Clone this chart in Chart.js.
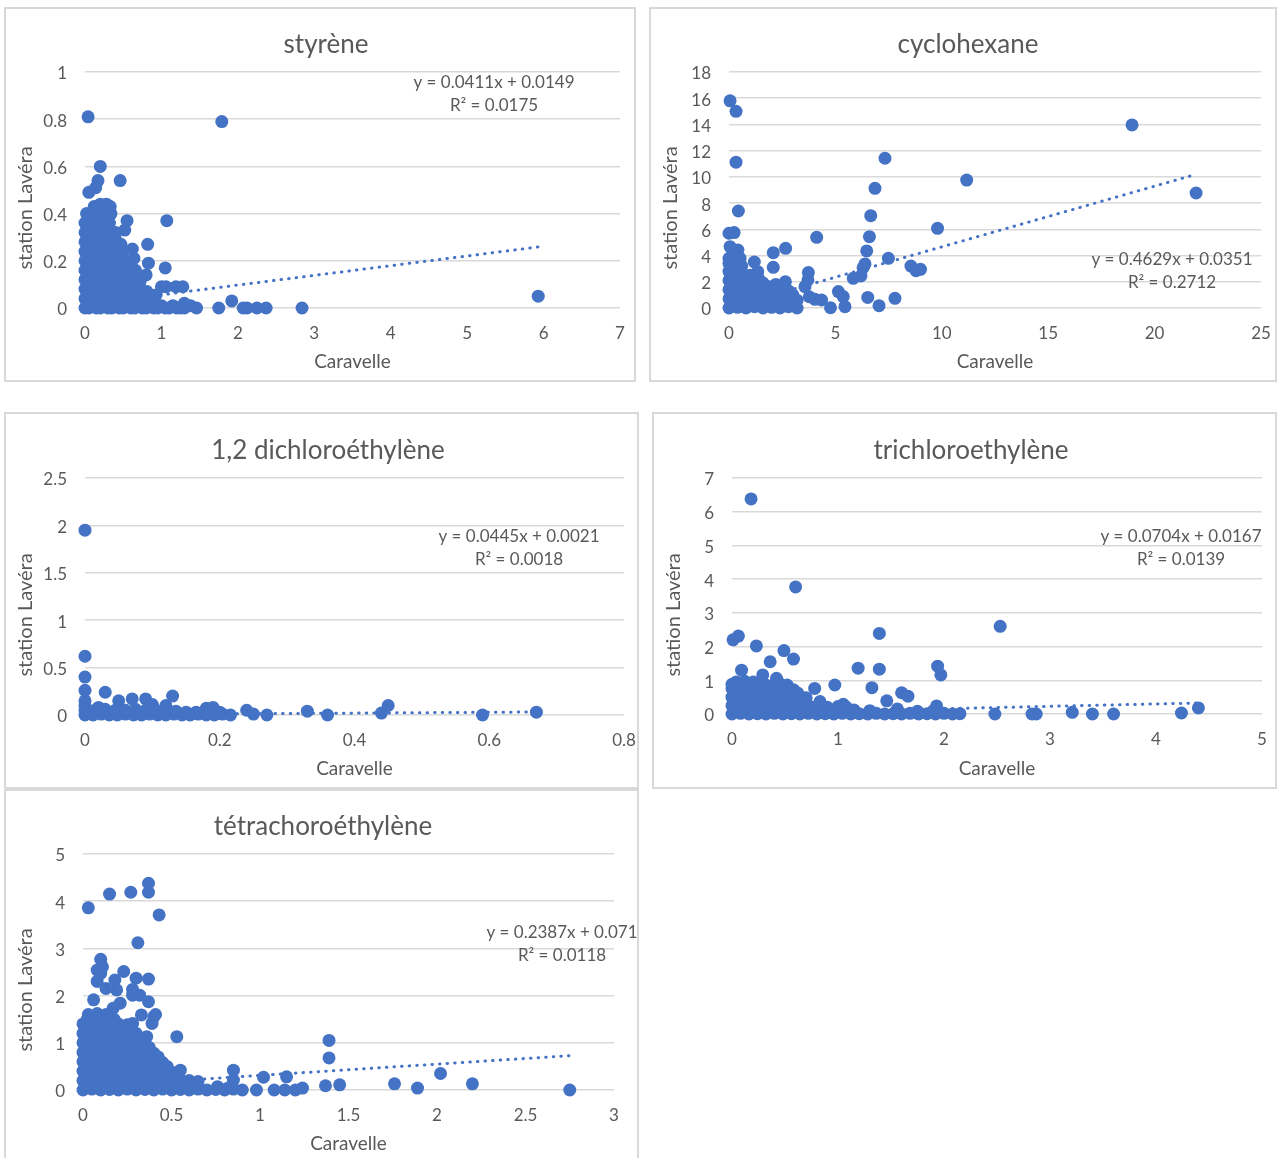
<!DOCTYPE html>
<html>
<head>
<meta charset="utf-8">
<title>Caravelle / station Lavéra</title>
<script src="https://cdn.jsdelivr.net/npm/chart.js@4.4.1/dist/chart.umd.min.js"></script>
<style>
  body { margin: 0; background: #fff; width: 1277px; height: 1158px; position: relative; overflow: hidden; }
  .box { position: absolute; box-sizing: border-box; border: 2px solid #d9d9d9; background: #fff; }
  .box canvas { display: block; }
</style>
</head>
<body>
<script>
// ---- data: [Caravelle, station Lavéra] pairs per compound ----
const titles = ['styrène', 'cyclohexane', '1,2 dichloroéthylène', 'trichloroethylène', 'tétrachoroéthylène'];
const slopes = [0.0411, 0.4629, 0.0445, 0.0704, 0.2387];
const intercepts = [0.0149, 0.0351, 0.0021, 0.0167, 0.071];
const r2Values = [0.0175, 0.2712, 0.0018, 0.0139, 0.0118];

const styreneXTicks = [0, 1, 2, 3, 4, 5, 6, 7];
const styreneYTicks = [0, 0.2, 0.4, 0.6, 0.8, 1];
const styrenePts = [
  [0.04,0.81],[1.79,0.79],[5.93,0.05],[0.2,0.6],[0.46,0.54],[0.17,0.54],[0.14,0.51],[0.05,0.49],
  [0.28,0.44],[0.33,0.43],[1.07,0.37],[0.55,0.37],[0.52,0.33],[0.47,0.27],[0.62,0.25],[0.64,0.21],
  [0.82,0.27],[0.83,0.19],[1.05,0.17],[0.8,0.14],[0.81,0.07],[0.93,0.055],[1.0,0.09],[1.06,0.09],
  [1.19,0.09],[1.28,0.09],[1.3,0.02],[1.46,0],[1.75,0],[1.92,0.03],[2.07,0],[2.12,0],[2.25,0],
  [2.37,0],[2.84,0],
  [0,0],[0.05,0],[0.1,0.01],[0.15,0],[0.2,0],[0.25,0.01],[0.3,0],[0.35,0],[0.4,0.01],[0.45,0],
  [0.5,0],[0.55,0.01],[0.6,0],[0.65,0],[0.7,0.01],[0.75,0],[0.8,0],[0.85,0.01],[0.9,0],[0.95,0],
  [1.0,0.01],[1.05,0],[1.1,0],[1.15,0.01],[1.2,0],[1.25,0],[1.3,0],[1.38,0.01],
  [0,0.04],[0.08,0.04],[0.16,0.05],[0.24,0.04],[0.32,0.04],[0.4,0.05],[0.48,0.04],[0.56,0.04],
  [0.64,0.05],[0.72,0.04],[0.8,0.04],[0.88,0.03],
  [0,0.08],[0.08,0.08],[0.16,0.09],[0.24,0.08],[0.32,0.08],[0.4,0.09],[0.48,0.08],[0.56,0.08],
  [0.64,0.09],[0.72,0.08],
  [0,0.12],[0.08,0.12],[0.16,0.13],[0.24,0.12],[0.32,0.12],[0.4,0.13],[0.48,0.12],[0.56,0.12],
  [0.64,0.13],[0.72,0.11],
  [0,0.16],[0.08,0.16],[0.16,0.17],[0.24,0.16],[0.32,0.16],[0.4,0.17],[0.48,0.16],[0.56,0.16],[0.66,0.16],
  [0,0.2],[0.08,0.2],[0.16,0.21],[0.24,0.2],[0.32,0.2],[0.4,0.21],[0.5,0.2],[0.58,0.2],
  [0,0.24],[0.08,0.24],[0.16,0.25],[0.24,0.24],[0.32,0.24],[0.4,0.25],[0.48,0.23],
  [0,0.28],[0.08,0.28],[0.16,0.29],[0.24,0.28],[0.32,0.28],[0.4,0.29],
  [0,0.32],[0.08,0.32],[0.16,0.33],[0.24,0.32],[0.32,0.32],[0.4,0.32],
  [0,0.36],[0.08,0.36],[0.16,0.37],[0.24,0.36],[0.32,0.36],
  [0.02,0.4],[0.1,0.4],[0.18,0.41],[0.26,0.4],[0.34,0.4],
  [0.12,0.43],[0.2,0.44],
  [0.04,0.1],[0.12,0.1],[0.2,0.1],[0.28,0.1],[0.36,0.1],[0.44,0.1],[0.52,0.1],[0.6,0.1],
  [0.04,0.22],[0.12,0.22],[0.2,0.22],[0.28,0.22],[0.36,0.22],[0.44,0.22],
  [0.04,0.3],[0.12,0.3],[0.2,0.3],[0.28,0.3],[0.36,0.3]
];

const cycloXTicks = [0, 5, 10, 15, 20, 25];
const cycloYTicks = [0, 2, 4, 6, 8, 10, 12, 14, 16, 18];
const cycloPts = [
  [0.05,15.8],[0.33,15.0],[0.33,11.12],[0.44,7.4],[18.94,13.96],[7.33,11.42],[11.17,9.76],[21.95,8.77],
  [6.86,9.13],[6.66,7.04],[9.8,6.08],[6.6,5.44],[4.12,5.39],[6.47,4.35],[7.49,3.79],[6.39,3.36],
  [6.3,3.07],[6.2,2.44],[5.84,2.26],[8.55,3.2],[8.79,2.85],[9.0,2.95],[3.73,2.7],[3.71,2.14],
  [3.57,1.63],[3.77,0.86],[4.04,0.66],[4.35,0.61],[4.77,0.02],[5.14,1.25],[5.37,0.87],[5.45,0.1],
  [6.52,0.81],[7.05,0.18],[7.8,0.74],[2.08,4.22],[2.66,4.55],[2.08,3.1],[1.19,3.51],[1.35,2.77],
  [0,5.7],[0.24,5.75],[0.05,4.68],[0.42,4.42],[0,3.79],[0.52,3.79],
  [0,0],[0.4,0.05],[0.8,0],[1.2,0.1],[1.6,0],[2.0,0.05],[2.4,0],[2.8,0.1],[3.2,0],
  [0,0.7],[0.4,0.7],[0.8,0.75],[1.2,0.7],[1.6,0.65],[2.0,0.7],[2.4,0.7],[2.8,0.7],[3.2,0.6],
  [0,1.4],[0.4,1.4],[0.8,1.4],[1.2,1.35],[1.6,1.4],[2.0,1.45],[2.4,1.35],[2.8,1.3],
  [0,2.1],[0.4,2.1],[0.8,2.05],[1.2,2.1],[1.6,1.9],[2.2,1.8],[2.65,2.0],
  [0,2.8],[0.3,2.8],[0.6,2.7],[1.0,2.5],
  [0,3.4],[0.3,3.3],[0.6,3.2],
  [0.2,0.35],[0.6,0.35],[1.0,0.35],[1.4,0.35],[1.8,0.35],[2.2,0.35],[2.6,0.35],[3.0,0.35],
  [0.2,1.05],[0.6,1.05],[1.0,1.05],[1.4,1.05],[1.8,1.05],[2.2,1.05],[2.6,1.05],[3.0,1.0],
  [0.2,1.75],[0.6,1.75],[1.0,1.75],[1.4,1.75],[1.8,1.65],[2.2,1.5],[2.6,1.6],
  [0.2,2.45],[0.6,2.45],[1.0,2.3],[1.4,2.2],
  [0.15,3.1],[0.45,3.0]
];

const dichloXTicks = [0, 0.2, 0.4, 0.6, 0.8];
const dichloYTicks = [0, 0.5, 1, 1.5, 2, 2.5];
const dichloPts = [
  [0,1.95],[0,0.62],[0,0.4],[0,0.26],[0.03,0.24],[0.05,0.15],[0.07,0.17],[0.09,0.17],[0.1,0.11],
  [0.12,0.1],[0.13,0.2],[0.18,0.07],[0.19,0.08],[0.24,0.05],[0.25,0.01],[0.27,0],[0.33,0.04],
  [0.36,0],[0.44,0.02],[0.45,0.1],[0.59,0],[0.67,0.03],[0,0.15],[0,0.1],[0.02,0.08],
  [0,0],[0.012,0],[0.024,0.01],[0.036,0],[0.048,0],[0.06,0.01],[0.072,0],[0.084,0],[0.096,0.01],
  [0.108,0],[0.12,0],[0.132,0.01],[0.144,0],[0.156,0],[0.168,0.01],[0.18,0],[0.192,0],[0.204,0.01],[0.216,0],
  [0,0.05],[0.015,0.05],[0.03,0.06],[0.045,0.05],[0.06,0.05],[0.075,0.06],[0.09,0.05],[0.105,0.05],
  [0.12,0.06],[0.135,0.04],[0.15,0.03],[0.165,0.03],[0.18,0.02],[0.2,0.03]
];

const trichXTicks = [0, 1, 2, 3, 4, 5];
const trichYTicks = [0, 1, 2, 3, 4, 5, 6, 7];
const trichPts = [
  [0.18,6.38],[0.6,3.77],[2.53,2.6],[1.39,2.39],[4.4,0.18],[4.24,0.03],[3.6,0],[3.4,0],[3.21,0.05],
  [2.87,0],[2.83,0],[2.48,0],[0.01,2.2],[0.06,2.31],[0.23,2.02],[0.49,1.88],[0.58,1.63],[0.36,1.55],
  [1.19,1.36],[1.39,1.33],[1.94,1.42],[1.97,1.16],[0.09,1.3],[0.29,1.16],[0.42,1.06],[0.78,0.76],
  [0.97,0.86],[1.32,0.78],[1.6,0.63],[1.66,0.53],[1.46,0.39],[0.83,0.37],[1.05,0.29],[1.93,0.24],
  [1.15,0.12],[1.3,0.1],[1.56,0.15],[1.75,0.08],[1.9,0.1],
  [0,0],[0.08,0.02],[0.16,0],[0.24,0.01],[0.32,0],[0.4,0.02],[0.48,0],[0.56,0.01],[0.64,0],[0.72,0.02],
  [0.8,0],[0.88,0.01],[0.96,0],[1.04,0.02],[1.12,0],[1.2,0.01],[1.28,0],[1.36,0.02],[1.44,0],[1.52,0.01],
  [1.6,0],[1.68,0.02],[1.76,0],[1.84,0.01],[1.92,0],[2.0,0.02],[2.08,0],[2.15,0.01],
  [0,0.25],[0.08,0.25],[0.16,0.27],[0.24,0.25],[0.32,0.25],[0.4,0.27],[0.48,0.25],[0.56,0.25],
  [0.64,0.27],[0.72,0.25],[0.8,0.22],[0.9,0.2],[1.0,0.22],[1.08,0.2],
  [0,0.5],[0.08,0.5],[0.16,0.52],[0.24,0.5],[0.32,0.5],[0.4,0.52],[0.48,0.5],[0.56,0.5],[0.64,0.52],[0.7,0.48],
  [0,0.75],[0.08,0.75],[0.16,0.77],[0.24,0.75],[0.32,0.75],[0.4,0.77],[0.5,0.75],[0.58,0.72],
  [0.04,0.95],[0.12,0.97],[0.2,0.95],[0.44,0.93],
  [0.04,0.12],[0.12,0.12],[0.2,0.12],[0.28,0.12],[0.36,0.12],[0.44,0.12],[0.52,0.12],[0.6,0.12],
  [0.68,0.12],[0.76,0.12],[0.84,0.1],[0.94,0.1],[1.02,0.1],
  [0.04,0.38],[0.12,0.38],[0.2,0.38],[0.28,0.38],[0.36,0.38],[0.44,0.38],[0.52,0.38],[0.6,0.38],[0.68,0.36],
  [0.04,0.63],[0.12,0.63],[0.2,0.63],[0.28,0.63],[0.36,0.63],[0.44,0.63],[0.52,0.63],[0.62,0.62],
  [0,0.88],[0.08,0.86],[0.16,0.88],[0.24,0.86],[0.32,0.86],[0.4,0.88],[0.52,0.86]
];

const tetraXTicks = [0, 0.5, 1, 1.5, 2, 2.5, 3];
const tetraYTicks = [0, 1, 2, 3, 4, 5];
const tetraPts = [
  [0.03,3.86],[0.15,4.15],[0.27,4.19],[0.37,4.38],[0.37,4.19],[0.43,3.71],[0.31,3.12],[0.1,2.77],
  [0.08,2.54],[0.23,2.51],[0.18,2.33],[0.3,2.37],[0.37,2.35],[0.08,2.3],[0.19,2.12],[0.28,2.13],
  [0.06,1.91],[0.32,2.01],[0.37,1.87],[0.17,1.73],[0.41,1.6],[0.39,1.41],[0.53,1.13],[0.4,0.74],
  [0.43,0.6],[0.55,0.42],[0.85,0.42],[1.02,0.27],[1.15,0.28],[1.39,1.05],[1.39,0.68],[2.02,0.35],
  [1.37,0.09],[1.45,0.11],[1.76,0.13],[1.89,0.04],[2.2,0.13],[2.75,0],[1.24,0.04],[1.2,0],[1.14,0],
  [1.08,0],[0.98,0],[0.4,1.55],[0.33,1.59],[0.28,1.41],[0.36,1.13],[0.21,1.84],[0.28,2.01],
  [0.13,2.15],[0.1,2.47],[0.11,2.61],[0.65,0.04],[0.76,0.07],[0.85,0.21],[0.82,0.04],
  [0,0],[0.05,0.02],[0.1,0],[0.15,0.01],[0.2,0],[0.25,0.02],[0.3,0],[0.35,0.01],[0.4,0],[0.45,0.02],
  [0.5,0],[0.55,0.01],[0.6,0],[0.65,0.02],[0.7,0],[0.75,0.01],[0.8,0],[0.85,0.02],[0.9,0],
  [0,0.2],[0.05,0.2],[0.1,0.22],[0.15,0.2],[0.2,0.2],[0.25,0.22],[0.3,0.2],[0.35,0.2],[0.4,0.22],
  [0.45,0.2],[0.5,0.2],[0.55,0.22],[0.6,0.2],[0.65,0.18],
  [0,0.4],[0.05,0.4],[0.1,0.42],[0.15,0.4],[0.2,0.4],[0.25,0.42],[0.3,0.4],[0.35,0.4],[0.4,0.42],[0.45,0.4],[0.5,0.38],
  [0,0.6],[0.05,0.6],[0.1,0.62],[0.15,0.6],[0.2,0.6],[0.25,0.62],[0.3,0.6],[0.35,0.6],[0.4,0.62],[0.45,0.58],
  [0,0.8],[0.05,0.8],[0.1,0.82],[0.15,0.8],[0.2,0.8],[0.25,0.82],[0.3,0.8],[0.35,0.8],[0.4,0.78],
  [0,1.0],[0.05,1.0],[0.1,1.02],[0.15,1.0],[0.2,1.0],[0.25,1.02],[0.3,1.0],[0.35,0.98],
  [0,1.2],[0.05,1.2],[0.1,1.22],[0.15,1.2],[0.2,1.2],[0.25,1.22],[0.3,1.2],
  [0,1.4],[0.05,1.4],[0.1,1.42],[0.15,1.4],[0.2,1.4],[0.25,1.38],
  [0.03,1.6],[0.08,1.62],[0.13,1.6],
  [0.025,0.1],[0.075,0.1],[0.125,0.1],[0.175,0.1],[0.225,0.1],[0.275,0.1],[0.325,0.1],[0.375,0.1],
  [0.425,0.1],[0.475,0.1],[0.525,0.1],[0.575,0.1],[0.625,0.1],
  [0.025,0.3],[0.075,0.3],[0.125,0.3],[0.175,0.3],[0.225,0.3],[0.275,0.3],[0.325,0.3],[0.375,0.3],
  [0.425,0.3],[0.475,0.3],[0.525,0.3],
  [0.025,0.5],[0.075,0.5],[0.125,0.5],[0.175,0.5],[0.225,0.5],[0.275,0.5],[0.325,0.5],[0.375,0.5],[0.425,0.5],[0.475,0.5],
  [0.025,0.7],[0.075,0.7],[0.125,0.7],[0.175,0.7],[0.225,0.7],[0.275,0.7],[0.325,0.7],[0.375,0.7],[0.425,0.7],
  [0.025,0.9],[0.075,0.9],[0.125,0.9],[0.175,0.9],[0.225,0.9],[0.275,0.9],[0.325,0.9],[0.375,0.9],
  [0.025,1.1],[0.075,1.1],[0.125,1.1],[0.175,1.1],[0.225,1.1],[0.275,1.1],[0.325,1.1],
  [0.025,1.3],[0.075,1.3],[0.125,1.3],[0.175,1.3],[0.225,1.3],[0.275,1.3],
  [0.025,1.5],[0.075,1.5],[0.125,1.5],[0.175,1.5]
];

// ---- page layout (page pixels): frame box, plot area, text anchors ----
const panels = [
  { box: [4, 7, 632, 375],   plot: [85, 72, 620, 308],    title: [326, 43],  yTitle: [26, 208],  xTitleY: 362,  eq: [494, 81] },
  { box: [649, 7, 628, 375], plot: [729, 72, 1261, 308],  title: [968, 43],  yTitle: [671, 208], xTitleY: 362,  eq: [1172, 258] },
  { box: [4, 412, 635, 377], plot: [85, 478, 624, 715],   title: [328, 449], yTitle: [26, 615],  xTitleY: 769,  eq: [519, 535] },
  { box: [652, 412, 625, 377], plot: [732, 478, 1262, 714], title: [971, 449], yTitle: [674, 615], xTitleY: 769, eq: [1181, 535] },
  { box: [4, 789, 635, 372], plot: [83, 854, 614, 1090],  title: [323, 825], yTitle: [26, 990],  xTitleY: 1144, eq: [562, 931] }
];

const series = [styrenePts, cycloPts, dichloPts, trichPts, tetraPts];
const xTickSets = [styreneXTicks, cycloXTicks, dichloXTicks, trichXTicks, tetraXTicks];
const yTickSets = [styreneYTicks, cycloYTicks, dichloYTicks, trichYTicks, tetraYTicks];

const BLUE = '#4472C4';
const TEXT = '#595959';
const GRID = '#d9d9d9';
const FONT = 'Lato, "Open Sans", sans-serif';
const TEXT_NUDGE = 2; // Lato sits a little high with textBaseline 'middle'

// chart title, rotated y title and trendline equation
const chartText = {
  id: 'chartText',
  afterDraw(chart, args, o) {
    const ctx = chart.ctx;
    ctx.save();
    ctx.fillStyle = TEXT;
    ctx.textAlign = 'center';
    ctx.textBaseline = 'middle';
    ctx.font = '26px ' + FONT;
    ctx.fillText(o.title, o.tx, o.ty + TEXT_NUDGE);
    ctx.font = '17px ' + FONT;
    ctx.fillText(o.eq1, o.ex, o.ey + TEXT_NUDGE);
    ctx.fillText(o.eq2, o.ex, o.ey + 23 + TEXT_NUDGE);
    ctx.translate(o.yx, o.yy);
    ctx.rotate(-Math.PI / 2);
    ctx.font = '20px ' + FONT;
    ctx.fillText('station Lavéra', 0, 0);
    ctx.restore();
  }
};

panels.forEach(function (p, i) {
  const div = document.createElement('div');
  div.className = 'box';
  div.style.left = p.box[0] + 'px';
  div.style.top = p.box[1] + 'px';
  div.style.width = p.box[2] + 'px';
  div.style.height = p.box[3] + 'px';
  const canvas = document.createElement('canvas');
  const cw = p.box[2] - 4, ch = p.box[3] - 4;
  canvas.width = cw; canvas.height = ch;
  canvas.style.width = cw + 'px'; canvas.style.height = ch + 'px';
  div.appendChild(canvas);
  document.body.appendChild(div);

  const ox = p.box[0] + 2, oy = p.box[1] + 2;
  const left = p.plot[0] - ox, top = p.plot[1] - oy;
  const right = p.plot[2] - ox, bottom = p.plot[3] - oy;
  const xTitleLH = 19 * 1.2;
  const xAxisH = (p.xTitleY - oy + xTitleLH / 2) - bottom;
  const padL = 2;

  const pts = series[i].map(d => ({ x: d[0], y: d[1] }));
  const xs = series[i].map(d => d[0]);
  const x0 = Math.min.apply(null, xs), x1 = Math.max.apply(null, xs);
  const trend = [
    { x: x0, y: slopes[i] * x0 + intercepts[i] },
    { x: x1, y: slopes[i] * x1 + intercepts[i] }
  ];
  const xt = xTickSets[i], yt = yTickSets[i];

  new Chart(canvas.getContext('2d'), {
    type: 'scatter',
    data: {
      datasets: [
        { data: pts, order: 0, clip: false, pointRadius: 6.5, pointBackgroundColor: BLUE, pointBorderWidth: 0, pointHoverRadius: 6.5 },
        { data: trend, order: 1, clip: false, showLine: true, pointRadius: 0, borderColor: BLUE, borderWidth: 3,
          borderDash: [0.5, 7.1], borderCapStyle: 'round', fill: false }
      ]
    },
    options: {
      responsive: false,
      animation: false,
      events: [],
      layout: { autoPadding: false, padding: { left: padL, top: top, right: cw - right, bottom: ch - bottom - xAxisH } },
      plugins: {
        legend: { display: false },
        tooltip: { enabled: false },
        chartText: {
          title: titles[i], tx: p.title[0] - ox, ty: p.title[1] - oy,
          eq1: 'y = ' + slopes[i] + 'x + ' + intercepts[i],
          eq2: 'R² = ' + r2Values[i],
          ex: p.eq[0] - ox, ey: p.eq[1] - oy,
          yx: p.yTitle[0] - ox, yy: p.yTitle[1] - oy
        }
      },
      scales: {
        x: {
          type: 'linear', min: xt[0], max: xt[xt.length - 1],
          afterBuildTicks: s => { s.ticks = xt.map(v => ({ value: v })); },
          // fixed axis height; end labels may hang over the plot edge
          afterFit: s => { s.height = xAxisH; s.paddingLeft = 0; s.paddingRight = 0; },
          grid: { display: false, drawTicks: false },
          border: { display: false },
          ticks: { color: TEXT, font: { family: FONT, size: 17 }, padding: 15, maxRotation: 0, autoSkip: false,
                   callback: v => String(v) },
          title: { display: true, text: 'Caravelle', color: TEXT, font: { family: FONT, size: 19 }, padding: 0 }
        },
        y: {
          type: 'linear', min: yt[0], max: yt[yt.length - 1],
          afterBuildTicks: s => { s.ticks = yt.map(v => ({ value: v })); },
          afterFit: s => { s.width = left - padL; s.paddingTop = 0; s.paddingBottom = 0; },
          grid: { color: GRID, lineWidth: 1.5, drawTicks: false },
          border: { display: false },
          ticks: { color: TEXT, font: { family: FONT, size: 17 }, padding: 18, labelOffset: 2, autoSkip: false,
                   callback: v => String(v) }
        }
      }
    },
    plugins: [chartText]
  });
});
</script>
</body>
</html>
